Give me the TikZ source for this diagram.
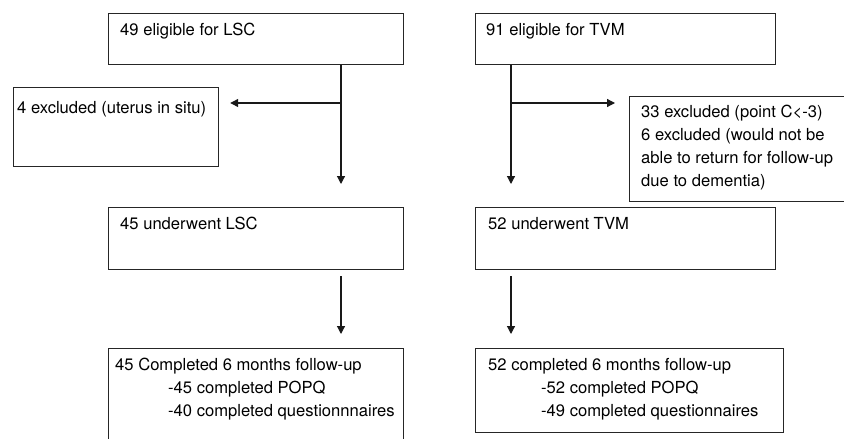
\documentclass[tikz,border=0pt]{standalone}
\usepackage{fontspec}
\setmainfont{TeX Gyre Heros}
\usetikzlibrary{arrows.meta,calc}
\begin{document}
\begin{tikzpicture}[x=1pt,y=-1pt,
 box/.style={draw=black!85,line width=1.2pt,rectangle,inner sep=0pt,anchor=north west},
 txt/.style={inner sep=0pt,anchor=base west,align=left,font=\fontsize{16.6}{23.3}\selectfont},
 arr/.style={draw=black!90,line width=1.2pt,-{Triangle[length=8pt,width=8pt]}},
 ln/.style={draw=black!90,line width=1.2pt}]
\useasboundingbox (0,0) rectangle (844,439);
\clip (0,0) rectangle (844,439);
% LSC column
\node[box,minimum width=295pt,minimum height=51pt] (b1) at (108,13) {};
\node[box,minimum width=205pt,minimum height=79pt] (e1) at (13,87) {};
\node[box,minimum width=295pt,minimum height=62pt] (b2) at (108,207) {};
\node[box,minimum width=295pt,minimum height=100pt] (b3) at (108,348) {};
% TVM column
\node[box,minimum width=300pt,minimum height=51pt] (r1) at (475,13) {};
\node[box,minimum width=225pt,minimum height=105pt] (e2) at (629,96) {};
\node[box,minimum width=300pt,minimum height=62pt] (r2) at (475,207) {};
\node[box,minimum width=308pt,minimum height=84pt] (r3) at (475,348) {};
% texts (multi-line nodes are placed by the baseline of their last line)
\node[txt] (tb1) at (120,35) {49 eligible for LSC};
\node[txt] (te1) at (17,113) {4 excluded (uterus in situ)};
\node[txt] (tb2) at (120,229) {45 underwent LSC};
\node[txt] (tb3) at (115,416.6) {45 Completed 6 months follow-up\\\hspace*{53pt}-45 completed POPQ\\\hspace*{53pt}-40 completed questionnnaires};
\node[txt] (tr1) at (486,35) {91 eligible for TVM};
\node[txt] (te2) at (641,186.9) {33 excluded (point C<-3)\\6 excluded (would not be\\able to return for follow-up\\due to dementia)};
\node[txt] (tr2) at (488,229) {52 underwent TVM};
\node[txt] (tr3) at (488,416.6) {52 completed 6 months follow-up\\\hspace*{53pt}-52 completed POPQ\\\hspace*{53pt}-49 completed questionnaires};
% connectors
\coordinate (j1) at (341,103);
\coordinate (j2) at (511,103);
\draw[arr,shorten >=23pt] (j1 |- b1.south) -- (j1 |- b2.north);
\draw[arr,shorten >=11pt] (j1) -- (j1 -| e1.east);
\draw[arr,shorten <=6pt,shorten >=14pt] (j1 |- b2.south) -- (j1 |- b3.north);
\draw[arr,shorten >=23pt] (j2 |- r1.south) -- (j2 |- r2.north);
\draw[arr,shorten >=14pt] (j2) -- (j2 -| e2.west);
\draw[arr,shorten <=6pt,shorten >=14pt] (j2 |- r2.south) -- (j2 |- r3.north);
\end{tikzpicture}
\end{document}
